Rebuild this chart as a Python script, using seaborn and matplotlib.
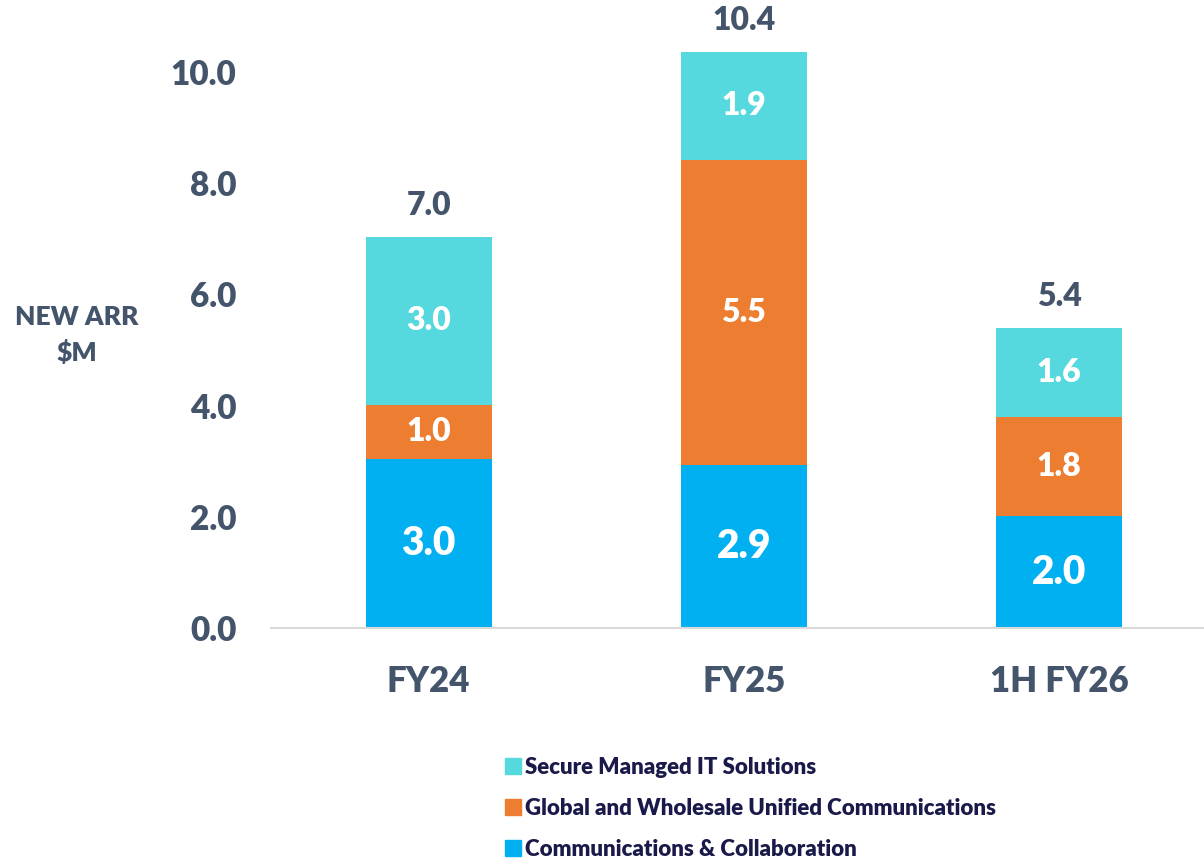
import pandas as pd
import seaborn as sns
import matplotlib.pyplot as plt
from matplotlib.patches import Patch

#%% data
periods = ["FY24", "FY25", "1H FY26"]
comms_collab = [3.04, 2.93, 2.01]
global_wholesale = [0.97, 5.49, 1.78]
secure_it = [3.02, 1.94, 1.61]
segment_names = ["Communications & Collaboration",
                 "Global and Wholesale Unified Communications",
                 "Secure Managed IT Solutions"]
y_ticks = [0, 2, 4, 6, 8, 10]

#%% style
sns.set_style("white")
plt.rcParams['font.family'] = ['Lato', 'DejaVu Sans']
W = "heavy"
plt.rcParams['font.weight'] = W

c_blue = "#00B0F0"
c_orange = "#ED7D31"
c_cyan = "#55D9DE"
c_text = "#44546A"
c_legend = "#1A1A4A"

df = pd.DataFrame({"period": periods, "blue": comms_collab,
                   "orange": global_wholesale, "cyan": secure_it})
df["lvl1"] = df["blue"]
df["lvl2"] = df["blue"] + df["orange"]
df["lvl3"] = df["lvl2"] + df["cyan"]

fig = plt.figure(figsize=(12.04, 8.61), dpi=100)
ax = fig.add_axes([271 / 1204, 233 / 861, 1 - 271 / 1204, 628 / 861])

# stacked bars drawn as overlapping cumulative totals
for col, color in [("lvl3", c_cyan), ("lvl2", c_orange), ("lvl1", c_blue)]:
    sns.barplot(data=df, x="period", y=col, color=color, width=0.4,
                saturation=1, ax=ax, edgecolor="none")

# segment labels
for i, row in df.iterrows():
    ax.text(i, row["blue"] / 2, f"{row['blue']:.1f}", ha="center", va="center",
            color="white", fontsize=28, fontweight=W)
    ax.text(i, row["lvl1"] + row["orange"] / 2, f"{row['orange']:.1f}", ha="center",
            va="center", color="white", fontsize=23, fontweight=W)
    ax.text(i, row["lvl2"] + row["cyan"] / 2, f"{row['cyan']:.1f}", ha="center",
            va="center", color="white", fontsize=23, fontweight=W)
    ax.text(i, row["lvl3"] + 0.3, f"{row['lvl3']:.1f}", ha="center", va="bottom",
            color=c_text, fontsize=23, fontweight=W, clip_on=False)

ax.set_xlim(-0.5, 2.46)
ax.set_ylim(0, 11.29)
ax.set_yticks(y_ticks)
ax.set_yticklabels([f"{t:.1f}" for t in y_ticks])
ax.set_xlabel("")
ax.set_ylabel("")
ax.tick_params(axis="y", length=0, pad=25, labelsize=24, labelcolor=c_text)
ax.tick_params(axis="x", length=0, pad=27, labelsize=25, labelcolor=c_text)
for lab in ax.get_xticklabels() + ax.get_yticklabels():
    lab.set_fontweight(W)

for s in ["top", "right", "left"]:
    ax.spines[s].set_visible(False)
ax.spines["bottom"].set_color("#D9D9D9")
ax.spines["bottom"].set_linewidth(1.5)

fig.text(77 / 1204, 1 - 335 / 861, "NEW ARR\n$M", ha="center", va="center",
         color=c_text, fontsize=19, fontweight=W, linespacing=1.5)

handles = [Patch(color=c_cyan), Patch(color=c_orange), Patch(color=c_blue)]
leg = fig.legend(handles, segment_names[::-1], loc="upper left",
                 bbox_to_anchor=(505 / 1204, 1 - 757 / 861), frameon=False,
                 handlelength=0.7, handleheight=0.7, handletextpad=0.2,
                 labelspacing=0.9, prop={"size": 16, "weight": W},
                 borderaxespad=0, borderpad=0)
for t in leg.get_texts():
    t.set_color(c_legend)

fig.savefig("out.png", dpi=100)
